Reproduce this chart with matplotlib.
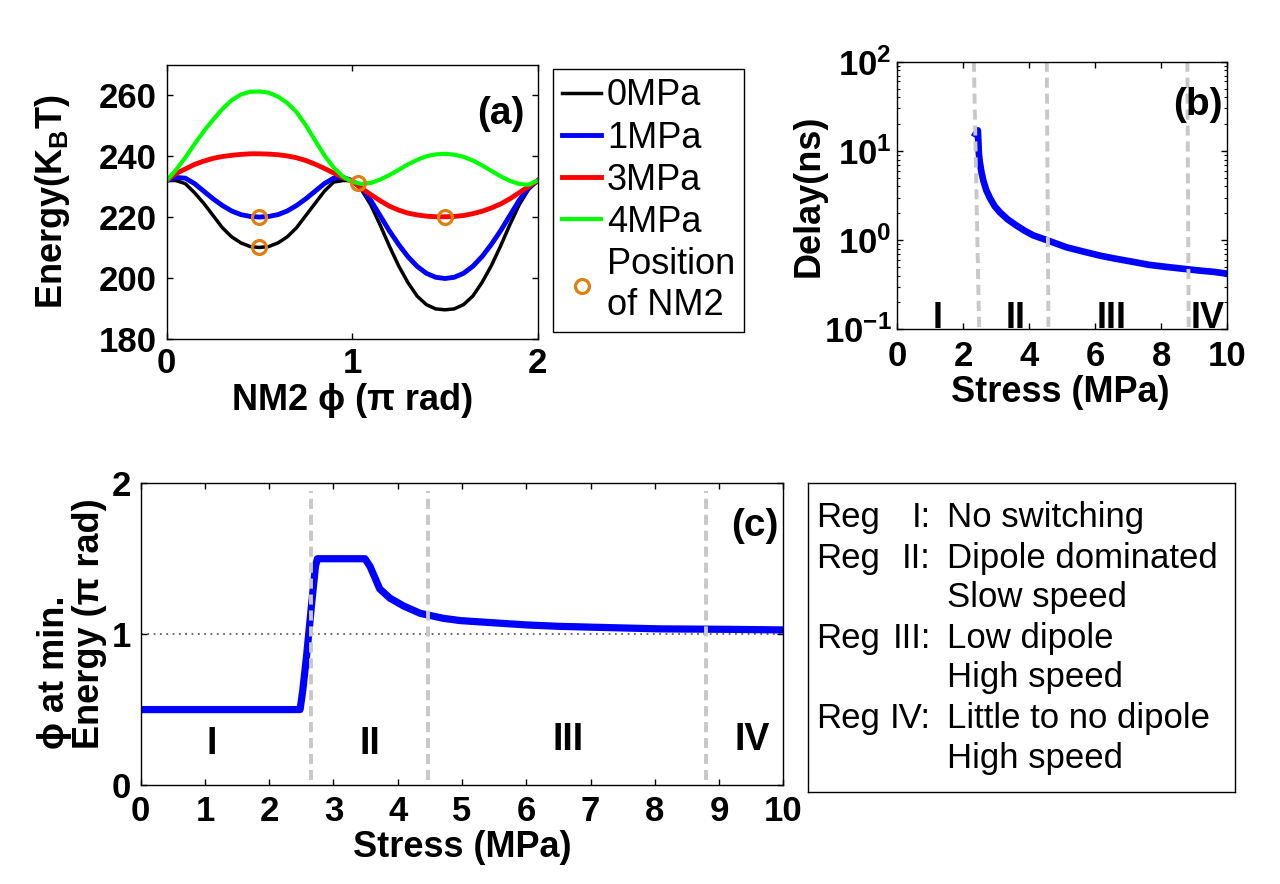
import numpy as np
import matplotlib
matplotlib.use('Agg')
import matplotlib.pyplot as plt
from matplotlib.ticker import LogLocator, NullFormatter

plt.rcParams['font.family'] = ['Liberation Sans', 'DejaVu Sans']
plt.rcParams['font.weight'] = 'bold'
plt.rcParams['axes.labelweight'] = 'bold'
plt.rcParams['mathtext.fontset'] = 'custom'
plt.rcParams['mathtext.rm'] = 'Liberation Sans:bold'
plt.rcParams['mathtext.bf'] = 'Liberation Sans:bold'
plt.rcParams['mathtext.it'] = 'Liberation Sans:bold'

# ---- data: panel (a), energy landscape of NM2 ----
phi = [0.0, 0.05, 0.1, 0.15, 0.2, 0.25, 0.3, 0.35, 0.4, 0.45, 0.5,
       0.55, 0.6, 0.65, 0.7, 0.75, 0.8, 0.85, 0.9, 0.95, 1.0,
       1.05, 1.1, 1.15, 1.2, 1.25, 1.3, 1.35, 1.4, 1.45, 1.5,
       1.55, 1.6, 1.65, 1.7, 1.75, 1.8, 1.85, 1.9, 1.95, 2.0]
e_0mpa = [232, 232, 231, 228, 224.5, 220.5, 216.5, 213.5, 211.5, 210.3, 210,
          210.3, 211.5, 213.5, 216.5, 220.5, 224.5, 228.5, 231.5, 232, 232,
          229, 224, 217.5, 210.5, 204, 198.5, 194, 191.2, 189.8, 189.5,
          189.8, 191.2, 194, 198.5, 204, 210.5, 217.5, 224, 229, 232]
e_1mpa = [232, 233, 232.8, 231, 228.5, 226, 223.8, 222, 220.8, 220.2, 220,
          220.2, 220.8, 222, 223.8, 226, 228.5, 231, 232.8, 233, 232,
          229.5, 225.5, 220.5, 215.5, 211, 207, 203.8, 201.5, 200.2, 199.8,
          200.2, 201.5, 203.8, 207, 211, 215.5, 220.5, 225.5, 229.5, 232]
e_3mpa = [232, 234.3, 235.8, 237.3, 238.4, 239.3, 239.9, 240.3, 240.6, 240.8, 240.8,
          240.7, 240.5, 240.1, 239.5, 238.6, 237.4, 236, 234.5, 233, 231.8,
          229.5, 227.4, 225.4, 223.6, 222.3, 221.3, 220.7, 220.3, 220.1, 220.1,
          220.2, 220.5, 221.1, 221.9, 223, 224.3, 226, 228, 230, 232]
e_4mpa = [232, 235.5, 239.5, 244, 248.2, 252, 255.5, 258.4, 260.3, 261.2, 261.3,
          260.9, 259.6, 257.5, 254.5, 250.2, 245.2, 240.3, 236.3, 233.3, 231.6,
          230.9, 231.2, 232.3, 233.8, 235.5, 237.3, 238.8, 240, 240.6, 240.8,
          240.5, 239.8, 238.6, 237, 235.2, 233.4, 231.9, 230.9, 230.6, 232]
stress_labels = ['0MPa', '1MPa', '3MPa', '4MPa']
nm2_phi = [0.5, 0.5, 1.03, 1.5]
nm2_energy = [210, 220, 231.3, 220]

# ---- data: panel (b), switching delay ----
b_stress = [2.37, 2.44, 2.46, 2.47, 2.50, 2.55, 2.61, 2.70, 2.81, 2.95, 3.11,
            3.35, 3.62, 3.85, 4.12, 4.53, 5.13, 5.6, 6.14, 6.6, 7.15, 7.6,
            8.16, 8.6, 9.17, 9.6, 10.0]
b_delay = [15.4, 17.0, 12.0, 9.5, 7.5, 5.8, 4.6, 3.6, 2.95, 2.4, 2.05,
           1.7, 1.45, 1.28, 1.13, 1.0, 0.83, 0.75, 0.67, 0.62, 0.57, 0.53,
           0.5, 0.48, 0.455, 0.44, 0.42]
b_div_top = [2.32, 4.53, 8.79]
b_div_bot = [2.48, 4.58, 8.83]
b_regions = ['I', 'II', 'III', 'IV']
b_region_x = [1.23, 3.6, 6.5, 9.4]

# ---- data: panel (c), phi at minimum energy ----
c_stress = [0, 2.48, 2.52, 2.58, 2.66, 2.72, 2.75, 3.0, 3.49, 3.57, 3.72,
            3.88, 4.09, 4.35, 4.71, 4.97, 5.5, 6.01, 6.5, 7.04, 8.08, 9.12, 10.0]
c_phi = [0.5, 0.5, 0.62, 0.85, 1.2, 1.45, 1.5, 1.5, 1.5, 1.448, 1.30,
         1.238, 1.187, 1.138, 1.105, 1.09, 1.075, 1.061, 1.052, 1.046, 1.035, 1.032, 1.028]
c_div = [2.65, 4.47, 8.79]
c_region_x = [1.1, 3.57, 6.65, 9.51]
c_region_y = [0.27, 0.27, 0.30, 0.30]

reg_names = ['I', 'II', 'III', 'IV']
reg_desc = [['No switching'], ['Dipole dominated', 'Slow speed'],
            ['Low dipole', 'High speed'], ['Little to no dipole', 'High speed']]

W, H = 1280, 884
fig = plt.figure(figsize=(W / 100, H / 100), dpi=100)
div_color = '#c8c8c8'
div_style = (0, (2.6, 1.5))
tick_fs = 25
label_fs = 26


def style_axes(ax, xpad=7, ypad=7):
    ax.tick_params(direction='in', top=True, right=True, length=4, width=1,
                   labelsize=tick_fs)
    ax.tick_params(axis='x', pad=xpad)
    ax.tick_params(axis='y', pad=ypad)
    for s in ax.spines.values():
        s.set_linewidth(1.0)


# Panel (a)
ax_a = fig.add_axes([166.7 / W, 1 - 338.7 / H, 371 / W, 273.7 / H])
colors = ['black', 'blue', 'red', '#00ff00']
widths = [2.5, 3.5, 3.5, 3.0]
for lbl, e, c, lw in zip(stress_labels, [e_0mpa, e_1mpa, e_3mpa, e_4mpa], colors, widths):
    ax_a.plot(phi, e, color=c, lw=lw, label=lbl)
ax_a.plot(nm2_phi, nm2_energy, 'o', mfc='none', mec='#de7f10', ms=10, mew=2.3,
          label='Position\nof NM2')
ax_a.set_xlim(0, 2)
ax_a.set_ylim(180, 270)
ax_a.set_xticks([0, 1, 2])
ax_a.set_yticks([180, 200, 220, 240, 260])
style_axes(ax_a, xpad=6, ypad=7)
ax_a.set_xlabel('NM2 ϕ (π rad)', fontsize=label_fs)
ax_a.set_ylabel('Energy(K$_\\mathregular{B}$T)', fontsize=label_fs)
ax_a.xaxis.set_label_coords(0.5, -0.163)
ax_a.yaxis.set_label_coords(-0.256, 0.5)
ax_a.xaxis.label.set_va('top')
ax_a.text(1.93, 254, '(a)', fontsize=28, ha='right', va='center')
leg = ax_a.legend(loc='upper left', bbox_to_anchor=(552.7 / W, 1 - 69.3 / H),
                  bbox_transform=fig.transFigure, fancybox=False, framealpha=1,
                  edgecolor='black', prop={'weight': 'normal', 'size': 26},
                  handlelength=1.1, handletextpad=0.15, labelspacing=0.2,
                  borderpad=0.25, borderaxespad=0)
leg.get_frame().set_linewidth(1.0)

# Panel (b)
ax_b = fig.add_axes([897.3 / W, 1 - 329.3 / H, 330 / W, 267.6 / H])
ax_b.plot(b_stress, b_delay, color='blue', lw=4.8)
for x0, x1 in zip(b_div_top, b_div_bot):
    ax_b.plot([x0, x1], [100, 0.1], color=div_color, lw=2.8, ls=div_style)
ax_b.set_yscale('log')
ax_b.set_xlim(0, 10)
ax_b.set_ylim(0.1, 100)
ax_b.set_xticks([0, 2, 4, 6, 8, 10])
ax_b.set_yticks([0.1, 1, 10, 100])
ax_b.set_yticklabels([r'$\mathbf{10^{-1}}$', r'$\mathbf{10^{0}}$',
                      r'$\mathbf{10^{1}}$', r'$\mathbf{10^{2}}$'])
ax_b.yaxis.set_minor_locator(LogLocator(base=10, subs=np.arange(2, 10)))
ax_b.yaxis.set_minor_formatter(NullFormatter())
style_axes(ax_b, xpad=8, ypad=4)
ax_b.tick_params(which='minor', direction='in', right=True, length=2, width=0.8)
ax_b.set_xlabel('Stress (MPa)', fontsize=label_fs)
ax_b.set_ylabel('Delay(ns)', fontsize=label_fs)
ax_b.xaxis.set_label_coords(0.495, -0.171)
ax_b.xaxis.label.set_va('top')
ax_b.yaxis.set_label_coords(-0.215, 0.5)
for name, x in zip(b_regions, b_region_x):
    ax_b.text(x, 0.104, name, fontsize=26, ha='center', va='baseline')
ax_b.text(9.87, 32.7, '(b)', fontsize=28, ha='right', va='center')

# Panel (c)
ax_c = fig.add_axes([140.7 / W, 1 - 785 / H, 642.6 / W, 301.7 / H])
ax_c.axhline(1, color='#606060', lw=1.3, ls=(0, (1, 2.5)), zorder=1)
ax_c.plot(c_stress, c_phi, color='blue', lw=5.2, zorder=2)
for x in c_div:
    ax_c.plot([x, x], [0.03, 1.95], color=div_color, lw=2.8, ls=div_style, zorder=3)
ax_c.set_xlim(0, 10)
ax_c.set_ylim(0, 2)
ax_c.set_xticks(range(0, 11))
ax_c.set_yticks([0, 1, 2])
style_axes(ax_c, xpad=7, ypad=7)
ax_c.set_xlabel('Stress (MPa)', fontsize=label_fs)
ax_c.set_ylabel('ϕ at min.\nEnergy (π rad)', fontsize=label_fs, multialignment='left',
                linespacing=1.0)
ax_c.xaxis.set_label_coords(0.5, -0.148)
ax_c.xaxis.label.set_va('top')
ax_c.yaxis.set_label_coords(-0.053, 0.535)
for name, x, y in zip(reg_names, c_region_x, c_region_y):
    ax_c.text(x, y, name, fontsize=27, ha='center', va='center')
ax_c.text(9.92, 1.72, '(c)', fontsize=28, ha='right', va='center')

# Region description box
ax_t = fig.add_axes([808 / W, 1 - 792 / H, 427 / W, 309 / H])
ax_t.set_xticks([])
ax_t.set_yticks([])
for s in ax_t.spines.values():
    s.set_linewidth(1.0)
row = 0
row_y = [0.113, 0.243, 0.372, 0.502, 0.631, 0.761, 0.89]
for name, desc in zip(reg_names, reg_desc):
    y = 1 - row_y[row]
    ax_t.text(0.02, y, 'Reg', fontsize=25, weight='normal', va='center', ha='left')
    ax_t.text(0.288, y, name + ':', fontsize=25, weight='normal', va='center', ha='right')
    for line in desc:
        y = 1 - row_y[row]
        ax_t.text(0.326, y, line, fontsize=25, weight='normal', va='center', ha='left')
        row += 1

fig.savefig('out.png', dpi=100)
